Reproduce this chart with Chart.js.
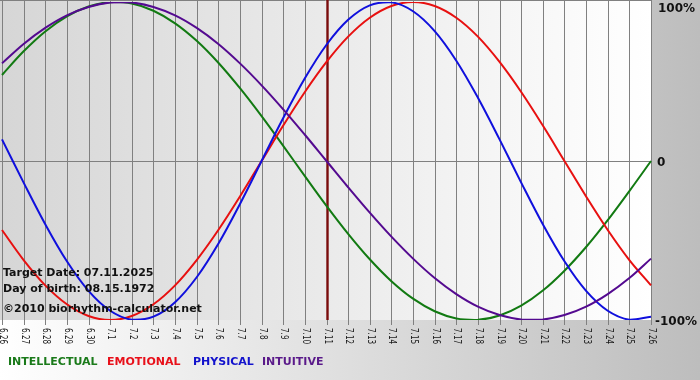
<!DOCTYPE html>
<html><head><meta charset="utf-8">
<script src="https://cdn.jsdelivr.net/npm/chart.js@4/dist/chart.umd.min.js"></script>
<style>html,body{margin:0;padding:0;background:#fff;overflow:hidden}#wrap{width:700px;height:380px;position:relative}</style>
</head><body><div id="wrap"><canvas id="c" width="700" height="380"></canvas></div>
<script>
const dayLabels = ['6.26','6.27','6.28','6.29','6.30','7.1','7.2','7.3','7.4','7.5','7.6','7.7','7.8','7.9','7.10','7.11','7.12','7.13','7.14','7.15','7.16','7.17','7.18','7.19','7.20','7.21','7.22','7.23','7.24','7.25','7.26'];
const intellectual = [0.541,0.690,0.815,0.910,0.972,0.999,0.990,0.945,0.866,0.756,0.618,0.458,0.282,0.095,-0.095,-0.282,-0.458,-0.618,-0.756,-0.866,-0.945,-0.990,-0.999,-0.972,-0.910,-0.815,-0.690,-0.541,-0.372,-0.189,0.000];
const emotional = [-0.434,-0.623,-0.782,-0.901,-0.975,-1.000,-0.975,-0.901,-0.782,-0.623,-0.434,-0.223,0.000,0.223,0.434,0.623,0.782,0.901,0.975,1.000,0.975,0.901,0.782,0.623,0.434,0.223,0.000,-0.223,-0.434,-0.623,-0.782];
const physical = [0.136,-0.136,-0.398,-0.631,-0.817,-0.942,-0.998,-0.979,-0.888,-0.731,-0.520,-0.270,0.000,0.270,0.520,0.731,0.888,0.979,0.998,0.942,0.817,0.631,0.398,0.136,-0.136,-0.398,-0.631,-0.817,-0.942,-0.998,-0.979];
const intuitive = [0.614,0.736,0.837,0.916,0.969,0.997,0.997,0.969,0.916,0.837,0.736,0.614,0.476,0.325,0.165,0.000,-0.165,-0.325,-0.476,-0.614,-0.736,-0.837,-0.916,-0.969,-0.997,-0.997,-0.969,-0.916,-0.837,-0.736,-0.614];
const seriesNames = ['INTELLECTUAL','EMOTIONAL','PHYSICAL','INTUITIVE'];
const seriesColors = ['#127a12','#e81010','#1010dd','#540a90'];
const legendColors = ['#1a7a1a','#e8101a','#1212cc','#5a1a8a'];
const targetLabel = '7.11';
const yTickValues = [1, 0, -1];
const yTickLabels = ['100%', '0', '-100%'];
const infoLines = ['Target Date: 07.11.2025', 'Day of birth: 08.15.1972', '\u00a92010 biorhythm-calculator.net'];

const decor = {
  id: 'decor',
  beforeDraw(chart) {
    const ctx = chart.ctx, a = chart.chartArea, xs = chart.scales.x, ys = chart.scales.y;
    ctx.save();
    const g = ctx.createLinearGradient(0, 0, 700, 0);
    g.addColorStop(0, '#ffffff'); g.addColorStop(1, '#bdbdbd');
    ctx.fillStyle = g; ctx.fillRect(0, 0, 700, 380);
    const pg = ctx.createLinearGradient(a.left, 0, a.right, 0);
    pg.addColorStop(0, '#d6d6d6'); pg.addColorStop(1, '#ffffff');
    ctx.fillStyle = pg; ctx.fillRect(0, 0, a.right, a.bottom);
    ctx.strokeStyle = '#808080'; ctx.lineWidth = 1;
    ctx.beginPath();
    for (let i = 0; i < dayLabels.length; i++) {
      const x = Math.round(xs.getPixelForValue(i)) + 0.5;
      ctx.moveTo(x, 0); ctx.lineTo(x, a.bottom + 5);
    }
    const y0 = Math.round(ys.getPixelForValue(0)) + 0.5;
    ctx.moveTo(0, y0); ctx.lineTo(a.right, y0);
    ctx.moveTo(0, 0.5); ctx.lineTo(a.right, 0.5);
    ctx.stroke();
    const ti = dayLabels.indexOf(targetLabel);
    const tx = Math.round(xs.getPixelForValue(ti)) + 0.5;
    ctx.strokeStyle = '#7a0c0c'; ctx.lineWidth = 2.4;
    ctx.beginPath(); ctx.moveTo(tx, 0); ctx.lineTo(tx, a.bottom); ctx.stroke();
    ctx.restore();
  },
  afterDraw(chart) {
    const ctx = chart.ctx, a = chart.chartArea, xs = chart.scales.x, ys = chart.scales.y;
    ctx.save();
    ctx.fillStyle = '#1a1a1a'; ctx.font = '11px "DejaVu Sans"';
    ctx.textAlign = 'left'; ctx.textBaseline = 'middle';
    for (let i = 0; i < dayLabels.length; i++) {
      const x = Math.round(xs.getPixelForValue(i)) + 0.5;
      const w = ctx.measureText(dayLabels[i]).width;
      ctx.save(); ctx.translate(x, a.bottom + 8); ctx.rotate(Math.PI / 2);
      ctx.fillText(dayLabels[i], 0, 0, w * 0.66);
      ctx.restore();
    }
    ctx.fillStyle = '#111'; ctx.font = 'bold 12px "DejaVu Sans"';
    for (let i = 0; i < yTickValues.length; i++) {
      let y = ys.getPixelForValue(yTickValues[i]);
      y = Math.max(y + 1, 8);
      const off = yTickLabels[i] === '0' ? 6 : (yTickLabels[i] === '100%' ? 7 : 4);
      ctx.fillText(yTickLabels[i], a.right + off, y + 1);
    }
    ctx.font = 'bold 11px "DejaVu Sans"'; ctx.textBaseline = 'alphabetic'; ctx.fillStyle = '#111';
    ctx.fillText(infoLines[0], 3, 276);
    ctx.fillText(infoLines[1], 3, 292);
    ctx.fillText(infoLines[2], 3, 312);
    ctx.textBaseline = 'middle';
    const lx = [8, 107, 193, 262];
    for (let i = 0; i < seriesNames.length; i++) {
      ctx.fillStyle = legendColors[i];
      ctx.fillText(seriesNames[i], lx[i], 362);
    }
    ctx.restore();
  }
};

const mk = (label, data, color, order) => ({
  label, data, borderColor: color, backgroundColor: color, borderWidth: 2,
  pointRadius: 0, tension: 0.36, fill: false, order
});

new Chart(document.getElementById('c'), {
  type: 'line',
  data: {
    labels: dayLabels,
    datasets: [
      mk(seriesNames[0], intellectual, seriesColors[0], 3),
      mk(seriesNames[1], emotional, seriesColors[1], 2),
      mk(seriesNames[2], physical, seriesColors[2], 1),
      mk(seriesNames[3], intuitive, seriesColors[3], 0)
    ]
  },
  options: {
    responsive: false, devicePixelRatio: 1, animation: false,
    layout: { padding: { left: 2, top: 2, right: 49, bottom: 60 } },
    scales: {
      x: { type: 'category', offset: false, display: false },
      y: { min: -1, max: 1, display: false }
    },
    plugins: { legend: { display: false }, tooltip: { enabled: false } }
  },
  plugins: [decor]
});
</script></body></html>
